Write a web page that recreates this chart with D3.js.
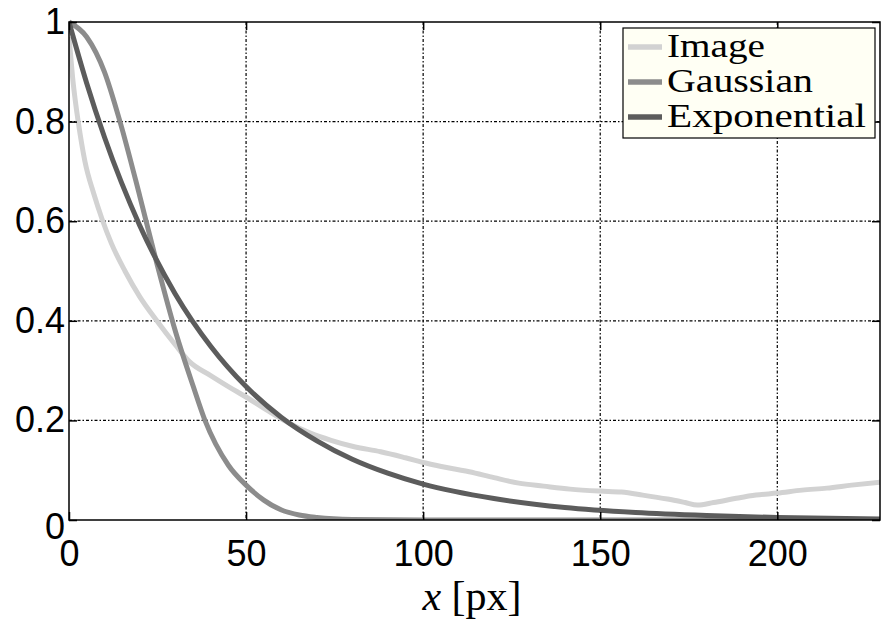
<!DOCTYPE html>
<html>
<head>
<meta charset="utf-8">
<script src="https://cdn.jsdelivr.net/npm/d3@7"></script>
<style>
  body { margin: 0; background: #fff; }
  svg { display: block; }
</style>
</head>
<body>
<svg id="chart" width="885" height="621"></svg>
<script>
// values
const imageX = [0, 0.5, 1, 2, 2.6, 4.5, 7, 9.3, 12, 15.8, 20, 24.8, 30, 34, 40, 45, 50, 56, 62, 68, 74, 80, 88, 95, 101, 107, 113, 120, 127, 134, 141.5, 150, 156, 162, 169, 174, 177.4, 182, 188, 194, 200, 207, 214, 221, 229]
const imageY = [0.97, 0.93, 0.89, 0.83, 0.8, 0.72, 0.655, 0.605, 0.555, 0.5, 0.448, 0.4, 0.352, 0.318, 0.29, 0.268, 0.247, 0.22, 0.195, 0.175, 0.16, 0.148, 0.137, 0.125, 0.114, 0.105, 0.097, 0.085, 0.074, 0.068, 0.062, 0.058, 0.056, 0.05, 0.042, 0.035, 0.03, 0.035, 0.043, 0.05, 0.054, 0.06, 0.064, 0.07, 0.076]

const gaussX = [0, 5, 10, 14.4, 20, 25, 30, 35, 38.4, 45, 50, 55, 60, 65, 70, 80, 100, 150, 229]
const gaussY = [1, 0.97, 0.9, 0.8, 0.65, 0.51, 0.38, 0.27, 0.2, 0.11, 0.07, 0.04, 0.02, 0.01, 0.005, 0.001, 0, 0, 0]

const expX = [0, 5, 10, 20, 30, 40, 50, 60, 70, 80, 90, 100, 120, 140, 160, 180, 200, 229]
const expY = [1, 0.877, 0.769, 0.591, 0.454, 0.349, 0.268, 0.206, 0.159, 0.122, 0.094, 0.072, 0.043, 0.025, 0.015, 0.009, 0.005, 0.002]

const seriesNames = ['Image', 'Gaussian', 'Exponential']
const seriesColors = ['#d2d2d2', '#8c8c8c', '#5c5c5c']
const xTicks = [0, 50, 100, 150, 200]
const yTicks = [0, 0.2, 0.4, 0.6, 0.8, 1]

window.addEventListener('load', makeChart)
function makeChart() {
  const svg = d3.select('#chart')
  const left = 69, right = 880, top = 22, bottom = 520

  const scX = d3.scaleLinear().domain([0, 229]).range([left, right])
  const scY = d3.scaleLinear().domain([0, 1]).range([bottom, top])

  // grid
  const grid = svg.append('g')
  grid.selectAll('line.gx')
    .data(xTicks.filter((d) => d > 0))
    .enter()
    .append('line')
    .attr('x1', scX).attr('x2', scX)
    .attr('y1', top).attr('y2', bottom)
  grid.selectAll('line.gy')
    .data(yTicks.filter((d) => d > 0 && d < 1))
    .enter()
    .append('line')
    .attr('y1', scY).attr('y2', scY)
    .attr('x1', left).attr('x2', right)
  grid.selectAll('line')
    .attr('stroke', '#000')
    .attr('stroke-width', 1.2)
    .attr('stroke-dasharray', '3,2,1.5,2')

  // curves
  svg.append('clipPath').attr('id', 'clip')
    .append('rect')
    .attr('x', left).attr('y', top - 3)
    .attr('width', right - left).attr('height', bottom - top + 3)

  const series = [
    imageX.map((x, i) => [x, imageY[i]]),
    gaussX.map((x, i) => [x, gaussY[i]]),
    expX.map((x, i) => [x, expY[i]]),
  ]
  const line = d3.line()
    .x((d) => scX(d[0]))
    .y((d) => scY(d[1]))
    .curve(d3.curveMonotoneX)

  svg.append('g')
    .attr('clip-path', 'url(#clip)')
    .selectAll('path')
    .data(series)
    .enter()
    .append('path')
    .attr('d', line)
    .attr('fill', 'none')
    .attr('stroke', (d, i) => seriesColors[i])
    .attr('stroke-width', 5)
    .attr('stroke-linejoin', 'round')

  // axes box
  svg.append('rect')
    .attr('x', left).attr('y', top)
    .attr('width', right - left).attr('height', bottom - top)
    .attr('fill', 'none')
    .attr('stroke', '#000')
    .attr('stroke-width', 1.5)

  // inward ticks on all four sides
  const axB = d3.axisBottom(scX).tickValues(xTicks).tickSize(-8).tickPadding(12)
  const axT = d3.axisTop(scX).tickValues(xTicks).tickSize(-8).tickFormat('')
  const axL = d3.axisLeft(scY).tickValues(yTicks).tickSize(-8).tickPadding(12)
    .tickFormat((d) => (d === 0 || d === 1 ? d3.format('d')(d) : d3.format('.1f')(d)))
  const axR = d3.axisRight(scY).tickValues(yTicks).tickSize(-8).tickFormat('')

  const gB = svg.append('g').attr('transform', `translate(0,${bottom})`).call(axB)
  svg.append('g').attr('transform', `translate(0,${top})`).call(axT)
  const gL = svg.append('g').attr('transform', `translate(${left},0)`).call(axL)
  svg.append('g').attr('transform', `translate(${right},0)`).call(axR)

  svg.selectAll('.domain').remove()
  svg.selectAll('.tick line').attr('stroke', '#000').attr('stroke-width', 1.5)
  svg.selectAll('.tick text')
    .attr('fill', '#000')
    .style('font-family', '"Liberation Sans", Arial, sans-serif')
    .style('font-size', '36px')
  gB.selectAll('.tick text').attr('dy', '0.95em')
  gL.selectAll('.tick text').attr('x', -4)
  gL.selectAll('.tick').filter((d) => d === 0).select('text').attr('dy', '0.5em')

  // x label
  const xl = svg.append('text')
    .attr('x', 472)
    .attr('y', 610)
    .attr('text-anchor', 'middle')
    .style('font-family', '"Liberation Serif", "DejaVu Serif", serif')
    .style('font-size', '42px')
  xl.append('tspan').style('font-style', 'italic').text('x')
  xl.append('tspan').text(' [px]')

  // legend
  const lg = svg.append('g')
  lg.append('rect')
    .attr('x', 623).attr('y', 28)
    .attr('width', 252).attr('height', 110)
    .attr('fill', '#fffff4')
    .attr('stroke', '#000')
    .attr('stroke-width', 1.2)
  const rowY = [47, 82, 117]
  const textW = [98, 146, 199]
  const row = lg.selectAll('g.row')
    .data(seriesNames)
    .enter()
    .append('g')
    .attr('transform', (d, i) => `translate(0,${rowY[i]})`)
  row.append('line')
    .attr('x1', 628).attr('x2', 662)
    .attr('stroke', (d, i) => seriesColors[i])
    .attr('stroke-width', 5.5)
  row.append('text')
    .attr('x', 667)
    .attr('y', 10)
    .attr('textLength', (d, i) => textW[i])
    .attr('lengthAdjust', 'spacingAndGlyphs')
    .style('font-family', '"Liberation Serif", "DejaVu Serif", serif')
    .style('font-size', '33px')
    .text((d) => d)
}
</script>
</body>
</html>
